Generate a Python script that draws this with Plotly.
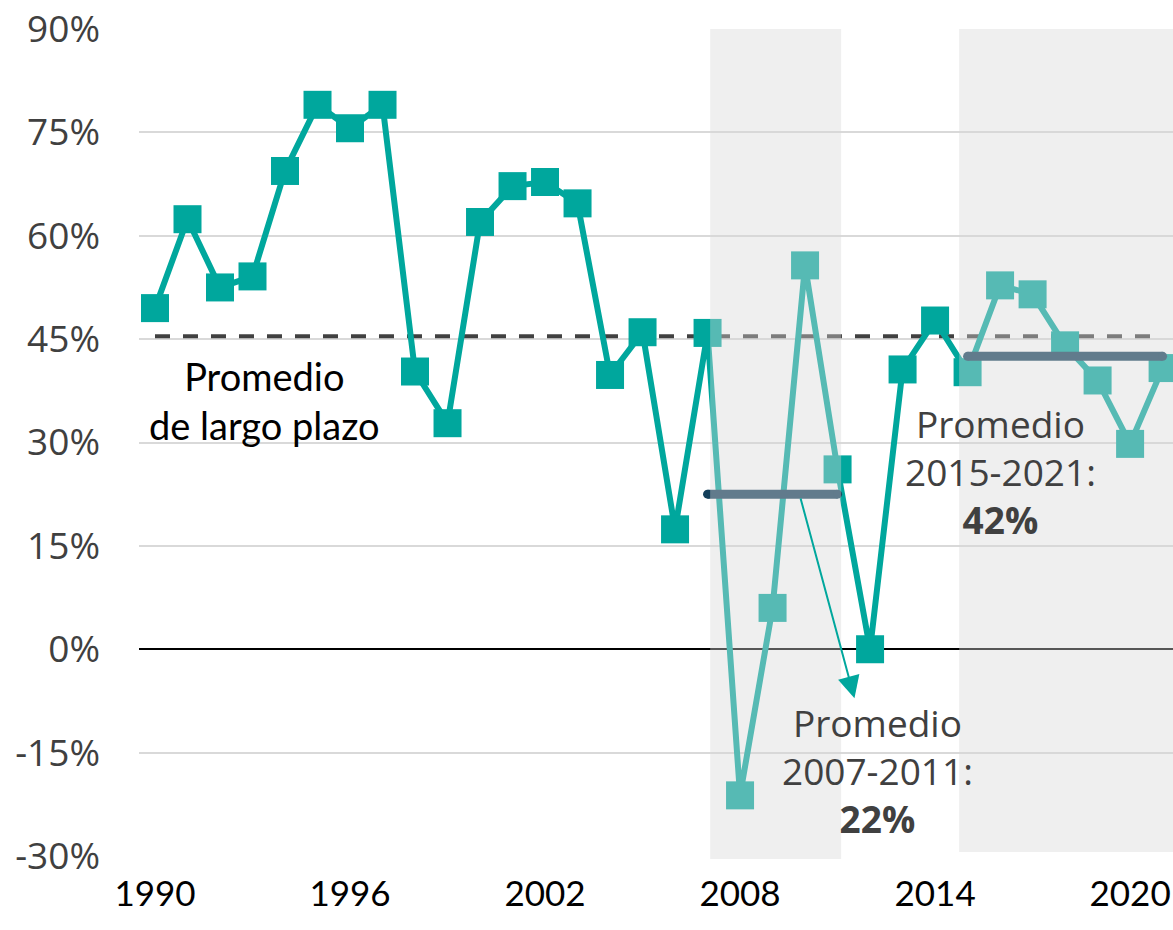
import plotly.graph_objects as go

years = list(range(1990, 2022))
values = [49.5, 62.4, 52.5, 54.1, 69.4, 79.0, 75.6, 79.0, 40.3, 32.8,
          62.0, 67.2, 67.8, 64.7, 39.8, 46.0, 17.4, 45.9, -21.2, 6.0,
          55.7, 26.1, 0.0, 40.6, 47.7, 40.2, 52.8, 51.5, 44.1, 39.0,
          29.8, 40.8]

long_term_avg = 45.4
avg_0711 = 22.5
avg_1521 = 42.5

y_ticks = [-30, -15, 0, 15, 30, 45, 60, 75, 90]
x_ticks = [1990, 1996, 2002, 2008, 2014, 2020]

TEAL = "#00A79D"
NAVY = "#133F5A"

fig = go.Figure()

# long-term average dashed line
fig.add_trace(go.Scatter(
    x=[1990, 2021], y=[long_term_avg, long_term_avg], mode="lines",
    line=dict(color="#404040", width=4, dash="15px,13px"),
    hoverinfo="skip", showlegend=False))

# main series
fig.add_trace(go.Scatter(
    x=years, y=values, mode="lines+markers",
    line=dict(color=TEAL, width=6),
    marker=dict(symbol="square", size=28, color=TEAL),
    showlegend=False))

# period averages
fig.add_trace(go.Scatter(
    x=[2007, 2011], y=[avg_0711, avg_0711], mode="lines+markers",
    line=dict(color=NAVY, width=9),
    marker=dict(symbol="circle", size=9, color=NAVY),
    hoverinfo="skip", showlegend=False))
fig.add_trace(go.Scatter(
    x=[2015, 2021], y=[avg_1521, avg_1521], mode="lines+markers",
    line=dict(color=NAVY, width=9),
    marker=dict(symbol="circle", size=9, color=NAVY),
    hoverinfo="skip", showlegend=False))

# shaded periods (semi-transparent overlay above the data)
fig.add_shape(type="rect", xref="x", yref="paper",
              x0=2007.08, x1=2011.11, y0=-0.0036, y1=1.0,
              fillcolor="rgba(215,215,215,0.4)", line=dict(width=0),
              layer="above")
fig.add_shape(type="rect", xref="x", yref="paper",
              x0=2014.74, x1=2021.4, y0=0.0048, y1=1.0,
              fillcolor="rgba(215,215,215,0.4)", line=dict(width=0),
              layer="above")

# arrow
fig.add_annotation(x=2011.52, y=-7.1, ax=2009.85, ay=22.1,
                   xref="x", yref="y", axref="x", ayref="y",
                   text="", showarrow=True, arrowhead=2, arrowsize=2.2,
                   arrowwidth=2, arrowcolor=TEAL, standoff=0, startstandoff=0)

fig.add_annotation(x=1993.38, y=36.1, xref="x", yref="y",
                   text="Promedio<br>de largo plazo", showarrow=False,
                   xanchor="center", yanchor="middle",
                   font=dict(family="Lato", size=38, color="#000000"))
fig.add_annotation(x=2016.0, y=25.8, xref="x", yref="y",
                   text="Promedio<br>2015-2021:<br><b>42%</b>", showarrow=False,
                   xanchor="center", yanchor="middle",
                   font=dict(family="Open Sans", size=37, color="#404040"))
fig.add_annotation(x=2012.22, y=-17.6, xref="x", yref="y",
                   text="Promedio<br>2007-2011:<br><b>22%</b>", showarrow=False,
                   xanchor="center", yanchor="middle",
                   font=dict(family="Open Sans", size=37, color="#404040"))

fig.update_layout(
    width=1173, height=930,
    margin=dict(l=139, r=0, t=29, b=74, autoexpand=False),
    paper_bgcolor="white", plot_bgcolor="white",
    showlegend=False,
    xaxis=dict(range=[1989.508, 2021.32], tickvals=x_ticks,
               ticktext=[str(v) for v in x_ticks],
               showgrid=False, zeroline=False, showline=False,
               ticks="", ticklabelstandoff=14, ticklabeloverflow="allow",
               automargin=False,
               tickfont=dict(family="Lato", size=35, color="#000000")),
    yaxis=dict(range=[-30, 90], tickvals=y_ticks,
               ticktext=[f"{v}%" for v in y_ticks],
               showgrid=True, gridcolor="#D9D9D9", gridwidth=2,
               zeroline=True, zerolinecolor="#000000", zerolinewidth=1.5,
               showline=False, ticks="", ticklabelstandoff=38,
               ticklabeloverflow="allow", automargin=False,
               tickfont=dict(family="Open Sans", size=37, color="#404040")),
)

# remove the default page margin and scrollbars so the figure fills the window
page_fix = ("document.body.style.margin='0';"
            "document.body.style.overflow='hidden';"
            "document.documentElement.style.overflow='hidden';")

fig.write_html("out.html", post_script=page_fix,
               config={"displayModeBar": False})
